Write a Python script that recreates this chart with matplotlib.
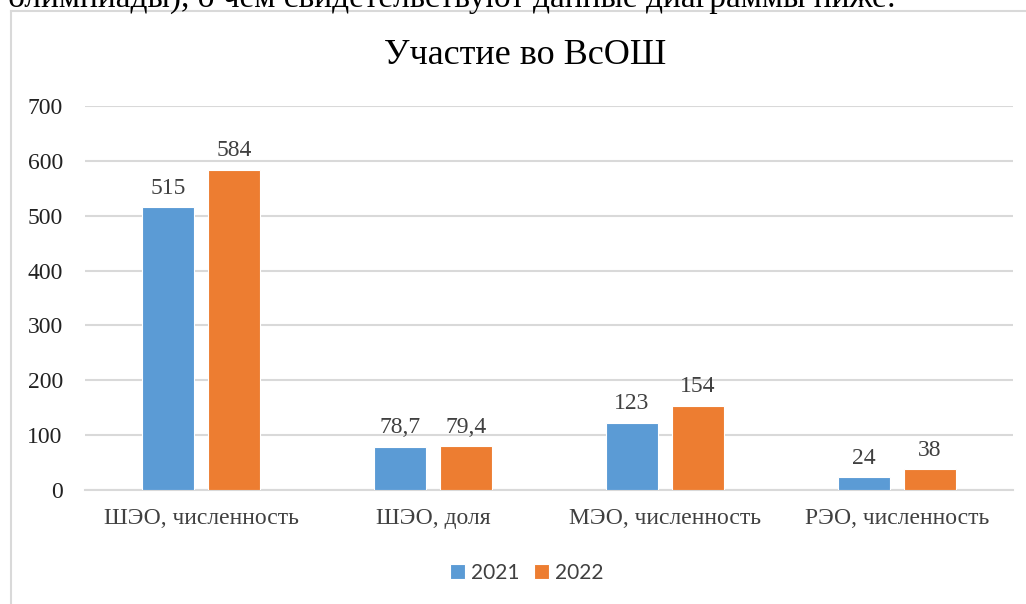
import matplotlib.pyplot as plt
from matplotlib.lines import Line2D
import numpy as np

# data
categories = ['ШЭО, численность', 'ШЭО, доля', 'МЭО, численность', 'РЭО, численность']
years = ['2021', '2022']
values_2021 = [515, 78.7, 123, 24]
values_2022 = [584, 79.4, 154, 38]
labels_2021 = ['515', '78,7', '123', '24']
labels_2022 = ['584', '79,4', '154', '38']

colors = ['#5B9BD5', '#ED7D31']
serif = 'Liberation Serif'

fig = plt.figure(figsize=(10.26, 6.04), dpi=100)
fig.set_facecolor('white')

# cut-off line of document text above the chart
fig.text(-0.018, 1 - 7 / 604, 'и олимпиады), о чем свидетельствуют данные диаграммы ниже:',
         fontsize=24, family=serif, color='black', ha='left', va='baseline')

# chart frame (left and top edges visible)
fig.add_artist(Line2D([11 / 1026, 11 / 1026], [0, 1 - 11 / 604], transform=fig.transFigure,
                      color='#D9D9D9', linewidth=1.5))
fig.add_artist(Line2D([11 / 1026, 1.01], [1 - 11 / 604, 1 - 11 / 604], transform=fig.transFigure,
                      color='#D9D9D9', linewidth=1.5))

ax = fig.add_axes([85 / 1026, 1 - 490 / 604, 928 / 1026, 384 / 604])

x = np.arange(len(categories))
w = 0.225
off = 0.142
b1 = ax.bar(x - off, values_2021, w, color=colors[0], edgecolor='white', linewidth=0.8,
            label=years[0], zorder=3)
b2 = ax.bar(x + off, values_2022, w, color=colors[1], edgecolor='white', linewidth=0.8,
            label=years[1], zorder=3)

for bars, labs in [(b1, labels_2021), (b2, labels_2022)]:
    for rect, lab in zip(bars, labs):
        ax.annotate(lab, (rect.get_x() + rect.get_width() / 2, rect.get_height()),
                    xytext=(0, 6), textcoords='offset points', ha='center', va='bottom',
                    fontsize=17, family=serif, color='#404040')

ax.set_xlim(-0.5, len(categories) - 0.5)
ax.set_ylim(0, 700)
ax.set_yticks(range(0, 701, 100))
ax.set_xticks(x)
ax.set_xticklabels(categories, family=serif, fontsize=17, color='#404040')
for t in ax.get_yticklabels():
    t.set_family(serif)
    t.set_fontsize(17)
    t.set_color('#222222')
ax.tick_params(axis='y', length=0, pad=16)
ax.tick_params(axis='x', length=0, pad=13)

ax.grid(axis='y', color='#D9D9D9', linewidth=1.5, zorder=0)
for s in ['top', 'right', 'left']:
    ax.spines[s].set_visible(False)
ax.spines['bottom'].set_color('#D9D9D9')
ax.spines['bottom'].set_linewidth(1.5)

fig.text(525 / 1026, 1 - 55 / 604, 'Участие во ВсОШ', fontsize=26, family=serif,
         ha='center', va='center', color='black')

leg = fig.legend(handles=[b1, b2], labels=years, loc='center', bbox_to_anchor=(527 / 1026, 1 - 573 / 604),
                 ncol=2, frameon=False, prop={'family': 'Lato', 'size': 15},
                 handlelength=0.7, handleheight=0.7, handletextpad=0.3, columnspacing=0.7)
for t in leg.get_texts():
    t.set_color('#404040')

fig.savefig('out.png', dpi=100)
